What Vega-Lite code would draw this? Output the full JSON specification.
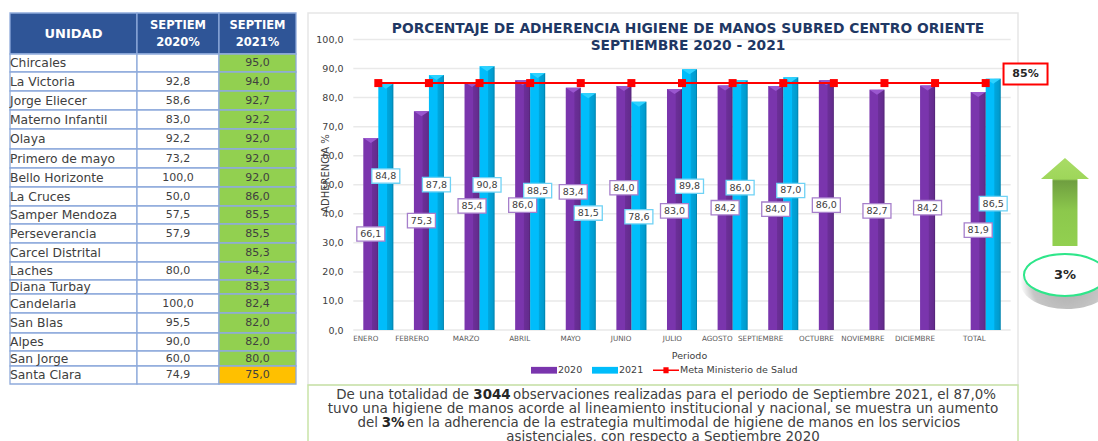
{
"$schema":"https://vega.github.io/schema/vega-lite/v6.json",
"background":"white",
"padding":{"left":9,"top":12,"right":0,"bottom":0},
"autosize":{"type":"pad"},
"bounds":"flush",
"spacing":0,
"columns":3,
"align":"each",
"config":{"view":{"stroke":null},"font":"DejaVu Sans","concat":{"spacing":0}},
"datasets":{
"mensual":[
{"periodo":"ENERO","serie":"2020","valor":66.1},{"periodo":"ENERO","serie":"2021","valor":84.8},
{"periodo":"FEBRERO","serie":"2020","valor":75.3},{"periodo":"FEBRERO","serie":"2021","valor":87.8},
{"periodo":"MARZO","serie":"2020","valor":85.4},{"periodo":"MARZO","serie":"2021","valor":90.8},
{"periodo":"ABRIL","serie":"2020","valor":86.0},{"periodo":"ABRIL","serie":"2021","valor":88.5},
{"periodo":"MAYO","serie":"2020","valor":83.4},{"periodo":"MAYO","serie":"2021","valor":81.5},
{"periodo":"JUNIO","serie":"2020","valor":84.0},{"periodo":"JUNIO","serie":"2021","valor":78.6},
{"periodo":"JULIO","serie":"2020","valor":83.0},{"periodo":"JULIO","serie":"2021","valor":89.8},
{"periodo":"AGOSTO","serie":"2020","valor":84.2},{"periodo":"AGOSTO","serie":"2021","valor":86.0},
{"periodo":"SEPTIEMBRE","serie":"2020","valor":84.0},{"periodo":"SEPTIEMBRE","serie":"2021","valor":87.0},
{"periodo":"OCTUBRE","serie":"2020","valor":86.0},
{"periodo":"NOVIEMBRE","serie":"2020","valor":82.7},
{"periodo":"DICIEMBRE","serie":"2020","valor":84.2},
{"periodo":"TOTAL","serie":"2020","valor":81.9},{"periodo":"TOTAL","serie":"2021","valor":86.5},
{"periodo":"ENERO","serie":"Meta Ministerio de Salud","valor":85},{"periodo":"FEBRERO","serie":"Meta Ministerio de Salud","valor":85},
{"periodo":"MARZO","serie":"Meta Ministerio de Salud","valor":85},{"periodo":"ABRIL","serie":"Meta Ministerio de Salud","valor":85},
{"periodo":"MAYO","serie":"Meta Ministerio de Salud","valor":85},{"periodo":"JUNIO","serie":"Meta Ministerio de Salud","valor":85},
{"periodo":"JULIO","serie":"Meta Ministerio de Salud","valor":85},{"periodo":"AGOSTO","serie":"Meta Ministerio de Salud","valor":85},
{"periodo":"SEPTIEMBRE","serie":"Meta Ministerio de Salud","valor":85},{"periodo":"OCTUBRE","serie":"Meta Ministerio de Salud","valor":85},
{"periodo":"NOVIEMBRE","serie":"Meta Ministerio de Salud","valor":85},{"periodo":"DICIEMBRE","serie":"Meta Ministerio de Salud","valor":85},
{"periodo":"TOTAL","serie":"Meta Ministerio de Salud","valor":85}
],
"tabla":[
{"fila":0,"columna":0,"texto":"UNIDAD","estado":"cabecera"},{"fila":0,"columna":1,"texto":"SEPTIEM\n2020%","estado":"cabecera"},{"fila":0,"columna":2,"texto":"SEPTIEM\n2021%","estado":"cabecera"},
{"fila":1,"columna":0,"texto":"Chircales","estado":"base"},{"fila":1,"columna":1,"texto":"","estado":"base"},{"fila":1,"columna":2,"texto":"95,0","estado":"cumple"},
{"fila":2,"columna":0,"texto":"La Victoria","estado":"base"},{"fila":2,"columna":1,"texto":"92,8","estado":"base"},{"fila":2,"columna":2,"texto":"94,0","estado":"cumple"},
{"fila":3,"columna":0,"texto":"Jorge Eliecer","estado":"base"},{"fila":3,"columna":1,"texto":"58,6","estado":"base"},{"fila":3,"columna":2,"texto":"92,7","estado":"cumple"},
{"fila":4,"columna":0,"texto":"Materno Infantil","estado":"base"},{"fila":4,"columna":1,"texto":"83,0","estado":"base"},{"fila":4,"columna":2,"texto":"92,2","estado":"cumple"},
{"fila":5,"columna":0,"texto":"Olaya","estado":"base"},{"fila":5,"columna":1,"texto":"92,2","estado":"base"},{"fila":5,"columna":2,"texto":"92,0","estado":"cumple"},
{"fila":6,"columna":0,"texto":"Primero de mayo","estado":"base"},{"fila":6,"columna":1,"texto":"73,2","estado":"base"},{"fila":6,"columna":2,"texto":"92,0","estado":"cumple"},
{"fila":7,"columna":0,"texto":"Bello Horizonte","estado":"base"},{"fila":7,"columna":1,"texto":"100,0","estado":"base"},{"fila":7,"columna":2,"texto":"92,0","estado":"cumple"},
{"fila":8,"columna":0,"texto":"La Cruces","estado":"base"},{"fila":8,"columna":1,"texto":"50,0","estado":"base"},{"fila":8,"columna":2,"texto":"86,0","estado":"cumple"},
{"fila":9,"columna":0,"texto":"Samper Mendoza","estado":"base"},{"fila":9,"columna":1,"texto":"57,5","estado":"base"},{"fila":9,"columna":2,"texto":"85,5","estado":"cumple"},
{"fila":10,"columna":0,"texto":"Perseverancia","estado":"base"},{"fila":10,"columna":1,"texto":"57,9","estado":"base"},{"fila":10,"columna":2,"texto":"85,5","estado":"cumple"},
{"fila":11,"columna":0,"texto":"Carcel Distrital","estado":"base"},{"fila":11,"columna":1,"texto":"","estado":"base"},{"fila":11,"columna":2,"texto":"85,3","estado":"cumple"},
{"fila":12,"columna":0,"texto":"Laches","estado":"base"},{"fila":12,"columna":1,"texto":"80,0","estado":"base"},{"fila":12,"columna":2,"texto":"84,2","estado":"cumple"},
{"fila":13,"columna":0,"texto":"Diana Turbay","estado":"base"},{"fila":13,"columna":1,"texto":"","estado":"base"},{"fila":13,"columna":2,"texto":"83,3","estado":"cumple"},
{"fila":14,"columna":0,"texto":"Candelaria","estado":"base"},{"fila":14,"columna":1,"texto":"100,0","estado":"base"},{"fila":14,"columna":2,"texto":"82,4","estado":"cumple"},
{"fila":15,"columna":0,"texto":"San Blas","estado":"base"},{"fila":15,"columna":1,"texto":"95,5","estado":"base"},{"fila":15,"columna":2,"texto":"82,0","estado":"cumple"},
{"fila":16,"columna":0,"texto":"Alpes","estado":"base"},{"fila":16,"columna":1,"texto":"90,0","estado":"base"},{"fila":16,"columna":2,"texto":"82,0","estado":"cumple"},
{"fila":17,"columna":0,"texto":"San Jorge","estado":"base"},{"fila":17,"columna":1,"texto":"60,0","estado":"base"},{"fila":17,"columna":2,"texto":"80,0","estado":"cumple"},
{"fila":18,"columna":0,"texto":"Santa Clara","estado":"base"},{"fila":18,"columna":1,"texto":"74,9","estado":"base"},{"fila":18,"columna":2,"texto":"75,0","estado":"alerta"}
],
"parrafo":[
{"linea":1,"tramo":"antes","texto":"De una totalidad de"},
{"linea":1,"tramo":"negrita","texto":"3044"},
{"linea":1,"tramo":"despues","texto":"observaciones realizadas para el periodo de Septiembre 2021, el 87,0%"},
{"linea":2,"tramo":"entera","texto":"tuvo una higiene de manos acorde al lineamiento institucional y nacional, se muestra un aumento"},
{"linea":3,"tramo":"antes","texto":"del"},
{"linea":3,"tramo":"negrita","texto":"3%"},
{"linea":3,"tramo":"despues","texto":"en la adherencia de la estrategia multimodal de higiene de manos en los servicios"},
{"linea":4,"tramo":"entera","texto":"asistenciales, con respecto a Septiembre 2020"}
]
},
"concat":[
{
"width":298,"height":372,
"data":{"name":"tabla"},
"transform":[{"calculate":"datum.fila+1","as":"filaFin"},{"calculate":"datum.columna+1","as":"columnaFin"},{"calculate":"datum.fila+0.5","as":"filaCentro"},{"calculate":"datum.columna+0.5","as":"columnaCentro"}],
"layer":[
{"mark":{"type":"rect","stroke":"#8eaadb","strokeWidth":1.3},
"encoding":{
"x":{"field":"columna","type":"quantitative","axis":null,"scale":{"domain":[0,1,2,3],"range":[0,127,209,286],"nice":false,"zero":false}},
"x2":{"field":"columnaFin"},
"y":{"field":"fila","type":"quantitative","axis":null,"scale":{"domain":[0,1,2,3,4,5,6,7,8,9,10,11,12,13,14,15,16,17,18,19],"range":[0,41,59,78,97,116,136,155,174,193,211,230,249,267,281,300,320,338,353,371],"nice":false,"zero":false}},
"y2":{"field":"filaFin"},
"fill":{"field":"estado","type":"nominal","legend":null,"scale":{"domain":["cabecera","base","cumple","alerta"],"range":["#2f5597","#ffffff","#92d050","#ffc000"]}}}},
{"transform":[{"filter":"datum.fila==0 && datum.columna==0"}],
"mark":{"type":"text","fontWeight":"bold","fontSize":13,"color":"#ffffff","align":"center","baseline":"middle"},
"encoding":{"x":{"field":"columnaCentro","type":"quantitative"},"y":{"field":"filaCentro","type":"quantitative"},"text":{"field":"texto"}}},
{"transform":[{"filter":"datum.fila==0 && datum.columna>0"}],
"mark":{"type":"text","fontWeight":"bold","fontSize":11.5,"color":"#ffffff","lineBreak":"\n","lineHeight":17,"align":"center","baseline":"middle","dy":-8},
"encoding":{"x":{"field":"columnaCentro","type":"quantitative"},"y":{"field":"filaCentro","type":"quantitative"},"text":{"field":"texto"}}},
{"transform":[{"filter":"datum.fila>0 && datum.columna==0"}],
"mark":{"type":"text","fontSize":12.3,"color":"#404040","align":"left","baseline":"middle"},
"encoding":{"x":{"field":"columna","type":"quantitative"},"y":{"field":"filaCentro","type":"quantitative"},"text":{"field":"texto"}}},
{"transform":[{"filter":"datum.fila>0 && datum.columna>0"}],
"mark":{"type":"text","fontSize":11,"color":"#404040","align":"center","baseline":"middle"},
"encoding":{"x":{"field":"columnaCentro","type":"quantitative"},"y":{"field":"filaCentro","type":"quantitative"},"text":{"field":"texto"}}}
]
},
{
"width":710,"height":372,
"view":{"stroke":"#e6e6e6","strokeWidth":1.5},
"title":{"text":["PORCENTAJE DE ADHERENCIA HIGIENE DE MANOS  SUBRED CENTRO ORIENTE","SEPTIEMBRE 2020 - 2021"],"anchor":"middle","dx":25,"offset":-40,"fontSize":13.8,"lineHeight":17,"fontWeight":"bold","color":"#1f3864","font":"DejaVu Sans"},
"data":{"name":"mensual"},
"layer":[
{"data":{"values":[{"marca":0},{"marca":10},{"marca":20},{"marca":30},{"marca":40},{"marca":50},{"marca":60},{"marca":70},{"marca":80},{"marca":90},{"marca":100}]},
"mark":{"type":"rule","color":"#e9e9e9","strokeWidth":1.5,"xOffset":-25,"x2Offset":25},
"encoding":{"y":{"field":"marca","type":"quantitative","title":"ADHERENCIA %",
"scale":{"domain":[-18.93,109.12],"nice":false,"zero":false},
"axis":{"values":[0,10,20,30,40,50,60,70,80,90,100],"tickCount":12,"offset":-35,"domain":false,"ticks":false,"tickSize":0,"grid":false,"labelPadding":0,"labelOverlap":false,"labelBound":false,"labelSeparation":0,"labelFontSize":9.5,"labelColor":"#404040","labelExpr":"datum.value<0?'':replace(format(datum.value,'.1f'),'.',',')","title":"ADHERENCIA %","titleFontSize":10,"titleFontWeight":"normal","titleColor":"#404040","titleX":-18,"titleY":160,"titleAnchor":"middle","titleBaseline":"middle"}},
"x":{"datum":"ENERO"},"x2":{"datum":"TOTAL"}}},
{"transform":[{"filter":"datum.serie=='ninguna'"}],
"mark":{"type":"point","filled":true,"opacity":1},
"encoding":{"x":{"field":"periodo","type":"nominal"},"y":{"field":"valor","type":"quantitative"},
"color":{"field":"serie","type":"nominal","title":null,
"scale":{"domain":["2020","2021","Meta Ministerio de Salud"],"range":["#7a35ad","#00bdfb","#ff0000"]},
"legend":{"orient":"none","legendX":521,"legendY":344,"direction":"horizontal","title":null,"symbolSize":676,"symbolStrokeWidth":0,"labelFontSize":9.5,"labelColor":"#404040","labelOffset":1,"columnPadding":9}},
"shape":{"field":"serie","type":"nominal","title":null,
"scale":{"domain":["2020","2021","Meta Ministerio de Salud"],"range":["M-1,-0.26H1V0.26H-1Z","M-1,-0.26H1V0.26H-1Z","M-1,-0.06H-0.2V-0.24H0.2V-0.06H1V0.06H0.2V0.24H-0.2V0.06H-1Z"]},
"legend":{"orient":"none","legendX":521,"legendY":344,"direction":"horizontal","title":null,"symbolSize":676,"symbolStrokeWidth":0,"labelFontSize":9.5,"labelColor":"#404040","labelOffset":1,"columnPadding":9}}}},
{"transform":[{"filter":"datum.serie!='Meta Ministerio de Salud'"}],
"mark":{"type":"bar"},
"encoding":{
"x":{"field":"periodo","type":"nominal","title":"Periodo",
"scale":{"domain":["ENERO","FEBRERO","MARZO","ABRIL","MAYO","JUNIO","JULIO","AGOSTO","SEPTIEMBRE","OCTUBRE","NOVIEMBRE","DICIEMBRE","TOTAL"],"range":[45,703],"paddingInner":0.407,"paddingOuter":0.2035},
"axis":{"orient":"bottom","offset":-55,"domain":false,"ticks":false,"tickSize":0,"labelPadding":8,"labelAngle":0,"labelFontSize":7.2,"labelColor":"#595959","labelOverlap":false,"titleFontSize":9.5,"titleFontWeight":"normal","titleColor":"#404040","titleX":381,"titleY":25,"titleBaseline":"middle","titleAnchor":"middle"}},
"xOffset":{"field":"serie","type":"nominal","scale":{"domain":["2020","2021"],"paddingInner":0,"paddingOuter":0}},
"y":{"field":"valor","type":"quantitative","stack":null},
"color":{"field":"serie","type":"nominal","title":null}}},
{"transform":[{"filter":"datum.serie!='Meta Ministerio de Salud'"}],
"mark":{"type":"bar","fill":{"gradient":"linear","x1":0,"x2":1,"y1":0,"y2":0,"stops":[{"offset":0,"color":"rgba(0,0,0,0)"},{"offset":0.55,"color":"rgba(0,0,0,0)"},{"offset":0.6,"color":"rgba(0,0,0,0.12)"},{"offset":0.9,"color":"rgba(0,0,0,0.18)"},{"offset":1,"color":"rgba(0,0,0,0.35)"}]}},
"encoding":{"x":{"field":"periodo","type":"nominal"},"xOffset":{"field":"serie","type":"nominal"},"y":{"field":"valor","type":"quantitative","stack":null}}},
{"transform":[{"filter":"datum.serie!='Meta Ministerio de Salud'"}],
"mark":{"type":"point","filled":true,"opacity":1,"shape":"M-0.75,0H0.75L0,0.5Z","size":400},
"encoding":{"x":{"field":"periodo","type":"nominal"},"xOffset":{"field":"serie","type":"nominal"},"y":{"field":"valor","type":"quantitative"},
"fill":{"condition":{"test":"datum.serie=='2020'","value":"#9a57cf"},"value":"#2cd2ff"}}},
{"transform":[{"filter":"datum.serie=='Meta Ministerio de Salud'"}],
"mark":{"type":"line","color":"#ff0000","strokeWidth":2},
"encoding":{"x":{"field":"periodo","type":"nominal"},"y":{"field":"valor","type":"quantitative"}}},
{"transform":[{"filter":"datum.serie=='Meta Ministerio de Salud'"}],
"mark":{"type":"point","filled":true,"opacity":1,"shape":"square","size":64,"color":"#ff0000"},
"encoding":{"x":{"field":"periodo","type":"nominal"},"y":{"field":"valor","type":"quantitative"}}},
{"transform":[{"filter":"datum.serie!='Meta Ministerio de Salud'"},
{"calculate":"datum.valor*(datum.serie=='2020'?({'ENERO':0.5,'FEBRERO':0.5,'MARZO':0.5,'ABRIL':0.5,'MAYO':0.57,'JUNIO':0.583,'JULIO':0.494,'AGOSTO':0.5,'SEPTIEMBRE':0.495,'OCTUBRE':0.5,'NOVIEMBRE':0.496,'DICIEMBRE':0.5,'TOTAL':0.42})[datum.periodo]:({'ENERO':0.625,'FEBRERO':0.57,'MARZO':0.55,'ABRIL':0.542,'MAYO':0.494,'JUNIO':0.496,'JULIO':0.551,'AGOSTO':0.57,'SEPTIEMBRE':0.552,'TOTAL':0.503})[datum.periodo])","as":"altura"},
{"calculate":"replace(format(datum.valor,'.1f'),'.',',')","as":"etiqueta"}],
"layer":[
{"mark":{"type":"point","filled":false,"opacity":1,"fill":"#ffffff","shape":"M-1.4,-0.72H1.4V0.72H-1.4Z","size":400,"strokeWidth":1.3},
"encoding":{"x":{"field":"periodo","type":"nominal"},"xOffset":{"field":"serie","type":"nominal"},"y":{"field":"altura","type":"quantitative"},
"stroke":{"condition":{"test":"datum.serie=='2020'","value":"#a67fcb"},"value":"#6fd2f5"}}},
{"mark":{"type":"text","fontSize":9.5,"color":"#404040","align":"center","baseline":"middle"},
"encoding":{"x":{"field":"periodo","type":"nominal"},"xOffset":{"field":"serie","type":"nominal"},"y":{"field":"altura","type":"quantitative"},"text":{"field":"etiqueta"}}}
]}
]
},
{
"width":81,"height":372,
"data":{"values":[{"elemento":"meta","texto":"85%"},{"elemento":"aumento","texto":"3%"}]},
"encoding":{
"x":{"datum":50,"axis":null,"scale":{"domain":[0,100],"nice":false,"zero":false}},
"y":{"datum":50,"axis":null,"scale":{"domain":[0,100],"nice":false,"zero":false}}
},
"layer":[
{"transform":[{"filter":"datum.elemento=='meta'"}],"mark":{"type":"point","filled":false,"opacity":1,"fill":"#ffffff","stroke":"#ff0000","strokeWidth":2,"shape":"M-2.2,-1.05H2.2V1.05H-2.2Z","size":400},"encoding":{"x":{"datum":9.3},"y":{"datum":83.6}}},
{"transform":[{"filter":"datum.elemento=='meta'"}],"mark":{"type":"text","fontSize":11,"fontWeight":"bold","color":"#262626","align":"center","baseline":"middle"},"encoding":{"x":{"datum":9.3},"y":{"datum":83.6},"text":{"field":"texto"}}},
{"transform":[{"filter":"datum.elemento=='aumento'"}],"mark":{"type":"point","filled":true,"opacity":1,"shape":"M0,-4.4L2.4,-2.3H1.25V4.4H-1.25V-2.3H-2.4Z","size":400,"fill":{"gradient":"linear","x1":0,"x2":0,"y1":0,"y2":1,"stops":[{"offset":0,"color":"#a9dc66"},{"offset":0.24,"color":"#9ed65a"},{"offset":0.26,"color":"#6f9e40"},{"offset":0.6,"color":"#8cc84c"},{"offset":1,"color":"#92d050"}]}},"encoding":{"x":{"datum":58},"y":{"datum":49.2}}},
{"transform":[{"filter":"datum.elemento=='aumento'"}],"mark":{"type":"point","filled":true,"opacity":1,"clip":true,"shape":"M-4.6,0A4.6,2.6 0 1 1 4.6,0A4.6,2.6 0 1 1 -4.6,0Z","size":400,"fill":{"gradient":"radial","x1":0.5,"y1":0.5,"x2":0.5,"y2":0.5,"r1":0,"r2":0.5,"stops":[{"offset":0,"color":"rgba(90,90,90,0.5)"},{"offset":0.75,"color":"rgba(90,90,90,0.35)"},{"offset":1,"color":"rgba(90,90,90,0)"}]}},"encoding":{"x":{"datum":60},"y":{"datum":27.4}}},
{"transform":[{"filter":"datum.elemento=='aumento'"}],"mark":{"type":"point","filled":false,"opacity":1,"clip":true,"fill":"#ffffff","stroke":"#2ee68a","strokeWidth":2,"shape":"M-4.1,0A4.1,2.1 0 1 1 4.1,0A4.1,2.1 0 1 1 -4.1,0Z","size":400},"encoding":{"x":{"datum":58},"y":{"datum":29.6}}},
{"transform":[{"filter":"datum.elemento=='aumento'"}],"mark":{"type":"text","fontSize":13,"fontWeight":"bold","color":"#262626","align":"center","baseline":"middle"},"encoding":{"x":{"datum":58},"y":{"datum":29.6},"text":{"field":"texto"}}}
]
},
{"width":298,"height":57,"data":{"values":[]},"mark":"text","encoding":{}},
{
"width":710,"height":57,
"view":{"stroke":"#c9e4a8","strokeWidth":1.5},
"data":{"name":"parrafo"},
"encoding":{
"y":{"field":"linea","type":"quantitative","axis":null,"scale":{"domain":[0.28,4.38],"reverse":true,"nice":false,"zero":false}},
"x":{"datum":355,"axis":null,"scale":{"domain":[0,710],"nice":false,"zero":false}}
},
"layer":[
{"transform":[{"filter":"datum.linea==1 && datum.tramo=='antes'"}],"mark":{"type":"text","fontSize":13.4,"color":"#404040","align":"right","baseline":"middle"},"encoding":{"x":{"datum":161},"text":{"field":"texto"}}},
{"transform":[{"filter":"datum.linea==1 && datum.tramo=='negrita'"}],"mark":{"type":"text","fontSize":13.4,"fontWeight":"bold","color":"#262626","align":"center","baseline":"middle"},"encoding":{"x":{"datum":184},"text":{"field":"texto"}}},
{"transform":[{"filter":"datum.linea==1 && datum.tramo=='despues'"}],"mark":{"type":"text","fontSize":13.4,"color":"#404040","align":"left","baseline":"middle"},"encoding":{"x":{"datum":205},"text":{"field":"texto"}}},
{"transform":[{"filter":"datum.linea==3 && datum.tramo=='antes'"}],"mark":{"type":"text","fontSize":13.4,"color":"#404040","align":"right","baseline":"middle"},"encoding":{"x":{"datum":70},"text":{"field":"texto"}}},
{"transform":[{"filter":"datum.linea==3 && datum.tramo=='negrita'"}],"mark":{"type":"text","fontSize":13.4,"fontWeight":"bold","color":"#262626","align":"center","baseline":"middle"},"encoding":{"x":{"datum":85},"text":{"field":"texto"}}},
{"transform":[{"filter":"datum.linea==3 && datum.tramo=='despues'"}],"mark":{"type":"text","fontSize":13.4,"color":"#404040","align":"left","baseline":"middle"},"encoding":{"x":{"datum":99},"text":{"field":"texto"}}},
{"transform":[{"filter":"datum.tramo=='entera'"}],"mark":{"type":"text","color":"#404040","align":"center","baseline":"middle"},"encoding":{"x":{"datum":355},"text":{"field":"texto"},"size":{"condition":{"test":"datum.linea==2","value":13.6},"value":13.4}}}
]
}
]
}
